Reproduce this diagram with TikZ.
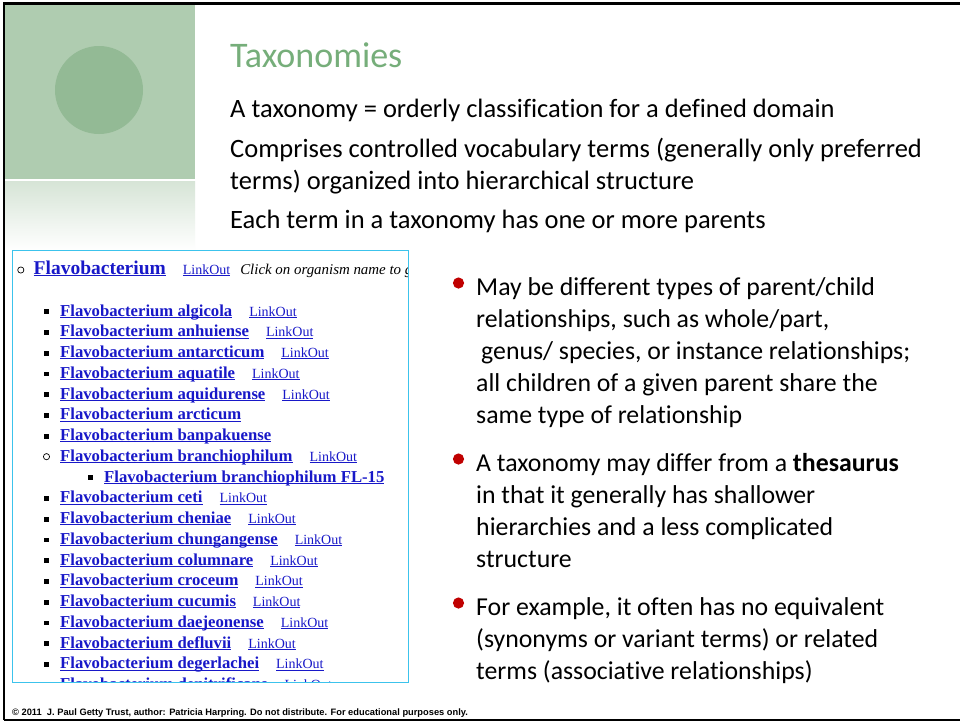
\documentclass[tikz,border=0pt]{standalone}
\usepackage{fontspec}
\setmainfont{Carlito}[Ligatures=NoCommon]
\newfontfamily\tms{Liberation Serif}
\newfontfamily\arl{Liberation Sans}
\definecolor{greensq}{HTML}{AFCCB0}
\definecolor{greencirc}{HTML}{93BA95}
\definecolor{gradtop}{HTML}{D6E4D6}
\definecolor{titlegreen}{HTML}{76AE7A}
\definecolor{bulletred}{HTML}{C00000}
\definecolor{cyanbox}{HTML}{3CC3EC}
\definecolor{linkblue}{HTML}{1818C8}
\newcommand\myul[1]{\setbox0\hbox{#1}\rlap{\rule[-1.8pt]{\wd0}{0.9pt}}\box0}
\newcommand\lofont{\tms\mdseries\fontsize{14}{16}\selectfont}
\tikzset{
  body/.style={anchor=base west, inner sep=0pt, font=\fontsize{26.5}{32}\selectfont},
  rbody/.style={anchor=base west, inner sep=0pt, font=\fontsize{25.8}{32}\selectfont},
  lst/.style={anchor=base west, inner sep=0pt, font=\tms\bfseries\fontsize{16.7}{20}\selectfont, text=linkblue},
  rdot/.style={fill=bulletred},
}
\begin{document}
\begin{tikzpicture}[x=1pt,y=-1pt]
\useasboundingbox (0,0) rectangle (960,721);
\fill[white] (0,0) rectangle (960,721);
% decorative green square and gradient
\fill[greensq] (5,5) rectangle (195,179);
\fill[greencirc] (99,90) circle (44);
\shade[top color=gradtop, bottom color=white] (5,181) rectangle (195,250);
% frame lines
\draw[line width=2.2pt] (4,720) -- (4,3.5) -- (960,3.5);
\draw[line width=1.6pt] (4,720) -- (960,720);
% title and body
\node[anchor=base west, inner sep=0pt, font=\fontsize{36}{40}\selectfont, text=titlegreen] (title) at (230,67) {Taxonomies};
\node[body] (l1) at (230,117) {A taxonomy = orderly classification for a defined domain};
\node[body] (l2) at (230,157) {Comprises controlled vocabulary terms (generally only preferred};
\node[body] (l3) at (230,189) {terms) organized into hierarchical structure};
\node[body] (l4) at (230,228) {Each term in a taxonomy has one or more parents};
% screenshot box
\begin{scope}
\clip (12.5,250) rectangle (408.5,682.5);
\draw[line width=0.7pt] (20.8,270) circle (3.1);
\node[anchor=base west, inner sep=0pt, font=\tms\bfseries\fontsize{19.5}{22}\selectfont, text=linkblue] (top) at (33.5,274)
  {\myul{Flavobacterium}\hspace{17pt}{\lofont\myul{LinkOut}}\hspace{10pt}{\color{black}\tms\mdseries\itshape\fontsize{14.9}{16}\selectfont Click on organism name to get more information.}};
\foreach [count=\i] \xx/\tt/\ll in {
  60/algicola/1, 60/anhuiense/1, 60/antarcticum/1, 60/aquatile/1, 60/aquidurense/1,
  60/arcticum/0, 60/banpakuense/0, 60/branchiophilum/1, 104/branchiophilum FL-15/0,
  60/ceti/1, 60/cheniae/1, 60/chungangense/1, 60/columnare/1, 60/croceum/1,
  60/cucumis/1, 60/daejeonense/1, 60/defluvii/1, 60/degerlachei/1, 60/denitrificans/1} {
  \pgfmathsetmacro\yy{316+20.75*(\i-1)}
  \ifnum\ll=1
    \node[lst] (it\i) at (\xx,\yy) {\myul{Flavobacterium \tt}\hspace{17pt}{\lofont\myul{LinkOut}}};
  \else
    \node[lst] (it\i) at (\xx,\yy) {\myul{Flavobacterium \tt}};
  \fi
  \ifnum\i=8
    \draw[line width=0.7pt] (\xx-13.5,\yy-4.6) circle (3.1);
  \else
    \fill (\xx-16.5,\yy-6.6) rectangle ++(5.2,4.6);
  \fi
}
\end{scope}
\draw[cyanbox, line width=0.9pt] (12.5,250) rectangle (408.5,682.5);
% right bullets
\fill[rdot] (458.5,283) circle (5.6);
\node[rbody] (b1a) at (476,295) {May be different types of parent/child};
\node[rbody] (b1b) at (476,327) {relationships, such as whole/part,};
\node[rbody] (b1c) at (481,359) {genus/ species, or instance relationships;};
\node[rbody] (b1d) at (476,391) {all children of a given parent share the};
\node[rbody] (b1e) at (476,423) {same type of relationship};
\fill[rdot] (458.5,459) circle (5.6);
\node[rbody] (b2a) at (476,471) {A taxonomy may differ from a \textbf{thesaurus}};
\node[rbody] (b2b) at (476,503) {in that it generally has shallower};
\node[rbody] (b2c) at (476,535) {hierarchies and a less complicated};
\node[rbody] (b2d) at (476,567) {structure};
\fill[rdot] (458.5,603) circle (5.6);
\node[rbody] (b3a) at (476,615) {For example, it often has no equivalent};
\node[rbody] (b3b) at (476,647) {(synonyms or variant terms) or related};
\node[rbody] (b3c) at (476,679) {terms (associative relationships)};
% footer
\node[anchor=base west, inner sep=0pt, font=\arl\bfseries\fontsize{9.3}{10}\selectfont] (foot) at (12,715.5)
  {\textcopyright{} 2011\ \ J. Paul Getty Trust, author: Patricia Harpring. Do not distribute. For educational purposes only.};
\end{tikzpicture}
\end{document}
